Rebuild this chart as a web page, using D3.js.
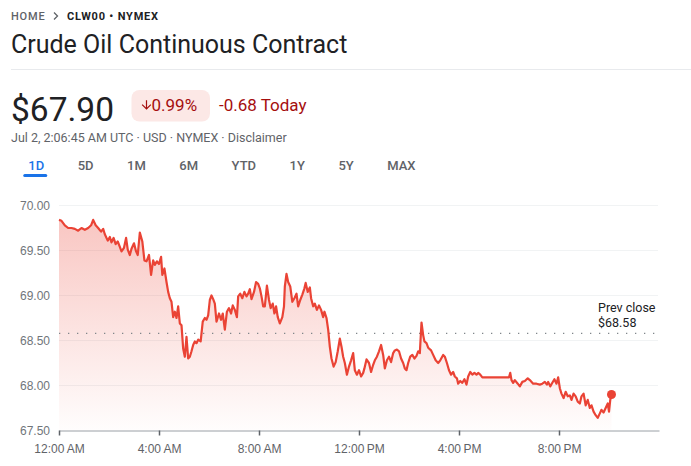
<!DOCTYPE html>
<html lang="en">
<head>
<meta charset="UTF-8">
<title>Crude Oil Continuous Contract</title>
<style>
  body { margin: 0; background: #fff; }
  svg { display: block; font-family: Roboto, "Noto Sans", sans-serif; }
</style>
</head>
<body>
<svg width="691" height="466"></svg>
<script src="https://d3js.org/d3.v7.min.js"></script>
<script>

const crumbs = ["HOME", "CLW00 • NYMEX"];
const title = "Crude Oil Continuous Contract";
const lastPrice = 67.90;
const changePct = -0.99;
const changeAbs = -0.68;
const stamp = "Jul 2, 2:06:45 AM UTC · USD · NYMEX · Disclaimer";
const ranges = ["1D", "5D", "1M", "6M", "YTD", "1Y", "5Y", "MAX"];
const yTicks = [67.5, 68, 68.5, 69, 69.5, 70];
const xTickHours = [0, 4, 8, 12, 16, 20];
const prevClose = 68.58;

// [minutes after midnight, price]
const series = [
  [0,69.84],[6,69.83],[14,69.78],[22,69.75],[30,69.75],[38,69.74],[46,69.72],[54,69.75],
  [62,69.73],[70,69.75],[77,69.78],[82,69.84],[88,69.78],[94,69.75],[101,69.71],[106,69.74],
  [110,69.68],[117,69.61],[122,69.65],[126,69.59],[131,69.64],[136,69.57],[141,69.60],[146,69.54],
  [150,69.49],[156,69.53],[161,69.64],[165,69.51],[170,69.45],[174,69.52],[180,69.58],[185,69.49],
  [189,69.45],[194,69.70],[200,69.60],[205,69.39],[210,69.38],[216,69.45],[221,69.23],[226,69.39],
  [230,69.34],[235,69.38],[240,69.35],[245,69.43],[248,69.23],[253,69.30],[258,69.15],[262,69.04],
  [266,68.97],[270,68.93],[274,68.76],[278,68.82],[282,68.75],[286,68.88],[290,68.69],[294,68.67],
  [298,68.41],[302,68.32],[306,68.54],[310,68.30],[314,68.32],[318,68.38],[322,68.45],[326,68.49],
  [330,68.47],[334,68.51],[340,68.49],[345,68.71],[350,68.75],[354,68.73],[358,68.78],[362,68.95],
  [366,69.00],[370,68.96],[374,68.91],[378,68.71],[384,68.80],[389,68.73],[393,68.80],[398,68.62],
  [403,68.82],[408,68.86],[413,68.80],[417,68.89],[422,68.84],[427,68.76],[430,68.99],[435,69.02],
  [440,68.97],[445,69.04],[450,68.99],[454,69.02],[458,69.07],[462,68.96],[468,69.04],[473,69.15],
  [478,69.13],[482,69.08],[486,68.99],[490,68.88],[494,68.88],[499,69.11],[504,68.95],[508,68.86],
  [513,68.91],[517,68.80],[521,68.88],[525,68.76],[530,68.69],[536,68.76],[540,68.88],[542,69.10],
  [546,69.24],[550,69.15],[555,69.10],[560,68.93],[565,68.97],[570,69.02],[574,68.88],[579,68.95],
  [584,69.01],[589,69.08],[592,69.14],[597,69.04],[602,69.09],[605,68.97],[610,68.88],[614,68.91],
  [619,68.84],[624,68.89],[629,68.84],[634,68.76],[637,68.82],[642,68.75],[646,68.62],[650,68.43],
  [654,68.30],[659,68.21],[664,68.26],[669,68.38],[674,68.52],[678,68.43],[682,68.32],[686,68.25],
  [691,68.12],[696,68.21],[701,68.28],[706,68.36],[710,68.17],[715,68.12],[720,68.17],[725,68.10],
  [730,68.14],[733,68.19],[738,68.29],[744,68.25],[749,68.15],[754,68.23],[758,68.28],[763,68.32],
  [768,68.38],[773,68.45],[778,68.34],[782,68.19],[787,68.28],[792,68.32],[797,68.26],[802,68.36],
  [806,68.39],[811,68.40],[816,68.38],[821,68.30],[826,68.25],[830,68.19],[834,68.17],[838,68.25],
  [843,68.32],[848,68.34],[853,68.30],[858,68.33],[862,68.38],[866,68.36],[870,68.70],[874,68.56],
  [877,68.49],[882,68.47],[886,68.42],[893,68.39],[898,68.34],[904,68.28],[910,68.25],[915,68.28],
  [922,68.34],[926,68.32],[931,68.25],[936,68.17],[941,68.12],[946,68.15],[950,68.10],[955,68.08],
  [958,68.02],[963,68.05],[968,68.03],[973,68.07],[978,68.01],[982,68.10],[987,68.15],[992,68.12],
  [997,68.14],[1002,68.12],[1006,68.14],[1011,68.12],[1016,68.09],[1022,68.09],[1080,68.09],[1083,68.14],
  [1086,68.06],[1090,68.03],[1094,68.06],[1101,68.02],[1106,67.99],[1112,68.04],[1118,68.05],[1125,68.08],
  [1130,68.06],[1138,68.02],[1146,68.02],[1154,68.01],[1160,68.02],[1166,68.04],[1171,68.01],[1174,68.04],
  [1179,67.99],[1184,68.03],[1189,68.07],[1194,68.02],[1198,68.09],[1202,67.97],[1206,67.91],[1211,67.86],
  [1216,67.93],[1221,67.88],[1226,67.89],[1230,67.84],[1235,67.91],[1240,67.88],[1245,67.82],[1250,67.80],
  [1254,67.88],[1259,67.91],[1264,67.78],[1269,67.84],[1274,67.75],[1278,67.78],[1283,67.71],[1288,67.67],
  [1293,67.64],[1298,67.69],[1302,67.73],[1307,67.70],[1312,67.75],[1317,67.80],[1320,67.71],[1323,67.84],
  [1326,67.90]
];

const red = "#ea4335", grey = "#5f6368", dark = "#202124";
const svg = d3.select("svg");

// ---- header ----
svg.append("text").attr("x", 11).attr("y", 20)
    .attr("font-size", 11).attr("font-weight", 500).attr("letter-spacing", 0.8)
    .attr("fill", grey).text(crumbs[0]);
svg.append("path").attr("d", "M54,12.5L57.5,16L54,19.5")
    .attr("fill", "none").attr("stroke", grey).attr("stroke-width", 1.3);
svg.append("text").attr("x", 67).attr("y", 20)
    .attr("font-size", 11).attr("font-weight", 700).attr("letter-spacing", 0.8)
    .attr("fill", dark).text(crumbs[1]);

svg.append("text").attr("x", 11).attr("y", 53)
    .attr("font-size", 25).attr("fill", dark).text(title);
svg.append("line").attr("x1", 11).attr("x2", 691).attr("y1", 69.5).attr("y2", 69.5)
    .attr("stroke", "#e8eaed");

svg.append("text").attr("x", 11).attr("y", 121)
    .attr("font-size", 33.5).attr("fill", dark).text("$" + lastPrice.toFixed(2));

svg.append("rect").attr("x", 131.5).attr("y", 90).attr("width", 78.5).attr("height", 31.5)
    .attr("rx", 8).attr("fill", "#fce8e6");
svg.append("path")
    .attr("d", "M20 12l-1.41-1.41L13 16.17V4h-2v12.17l-5.58-5.59L4 12l8 8 8-8z")
    .attr("transform", "translate(139.3,97.8) scale(0.6)")
    .attr("fill", "#a50e0e");
svg.append("text").attr("x", 151.5).attr("y", 111)
    .attr("font-size", 17).attr("fill", "#a50e0e")
    .text(Math.abs(changePct).toFixed(2) + "%");
svg.append("text").attr("x", 219).attr("y", 111)
    .attr("font-size", 17).attr("fill", "#a50e0e")
    .text(changeAbs.toFixed(2) + " Today");

svg.append("text").attr("x", 11).attr("y", 142)
    .attr("font-size", 12.5).attr("fill", grey).text(stamp);

// ---- range tabs ----
let tabX = 28.3;
ranges.forEach((r, i) => {
  const t = svg.append("text").attr("x", tabX).attr("y", 170)
      .attr("font-size", 13).attr("font-weight", 500)
      .attr("fill", i === 0 ? "#1a73e8" : grey).text(r);
  const w = t.node().getComputedTextLength();
  if (i === 0) {
    const cx = tabX + w / 2 - 1;
    svg.append("rect").attr("x", cx - 12).attr("y", 174).attr("width", 24).attr("height", 3)
        .attr("rx", 1.5).attr("fill", "#1a73e8");
  }
  tabX += w + 33.5;
});

// ---- chart ----
const day = new Date(2025, 6, 1);
const at = m => new Date(day.getTime() + m * 60000);
const x = d3.scaleTime().domain([day, d3.timeDay.offset(day, 1)]).range([59, 659]);
const y = d3.scaleLinear().domain([67.5, 70]).range([430.5, 205.5]);

const defs = svg.append("defs");
const grad = defs.append("linearGradient").attr("id", "fade")
    .attr("gradientUnits", "userSpaceOnUse")
    .attr("x1", 0).attr("x2", 0).attr("y1", y(70)).attr("y2", y(67.5));
grad.append("stop").attr("offset", 0).attr("stop-color", red).attr("stop-opacity", 0.32);
grad.append("stop").attr("offset", 1).attr("stop-color", red).attr("stop-opacity", 0.01);

svg.append("g").selectAll("line")
  .data(yTicks.filter(v => v > 67.5))
  .join("line")
    .attr("x1", 59).attr("x2", 658)
    .attr("y1", d => y(d)).attr("y2", d => y(d))
    .attr("stroke", "#f1f3f4");

const yAxis = svg.append("g").attr("transform", "translate(50,0)")
    .call(d3.axisLeft(y).tickValues(yTicks).tickSize(0).tickPadding(0).tickFormat(d3.format(".2f")));
yAxis.select(".domain").remove();
yAxis.selectAll("text").attr("font-size", 12).attr("fill", "#70757a").attr("font-family", null);

svg.append("path").datum(series)
    .attr("fill", "url(#fade)")
    .attr("d", d3.area().x(d => x(at(d[0]))).y0(y(67.5)).y1(d => y(d[1])));

svg.append("line")
    .attr("x1", 59).attr("x2", 657)
    .attr("y1", y(prevClose)).attr("y2", y(prevClose))
    .attr("stroke", "#80868b").attr("stroke-width", 1.3).attr("stroke-dasharray", "1.3 7.7");

svg.append("path").datum(series)
    .attr("fill", "none").attr("stroke", red).attr("stroke-width", 2.2)
    .attr("stroke-linejoin", "round")
    .attr("d", d3.line().x(d => x(at(d[0]))).y(d => y(d[1])));

const last = series[series.length - 1];
svg.append("circle").attr("cx", x(at(last[0]))).attr("cy", y(last[1])).attr("r", 4.5)
    .attr("fill", red);

svg.append("text").attr("x", 598).attr("y", 311.5)
    .attr("font-size", 12.5).attr("fill", dark).text("Prev close");
svg.append("text").attr("x", 598).attr("y", 326.5)
    .attr("font-size", 12.5).attr("fill", dark).text("$" + prevClose.toFixed(2));

const xAxis = svg.append("g").attr("transform", `translate(0,${y(67.5)})`)
    .call(d3.axisBottom(x)
      .tickValues(xTickHours.map(h => d3.timeHour.offset(day, h)))
      .tickSizeInner(5).tickSizeOuter(0).tickPadding(9)
      .tickFormat(d3.timeFormat("%-I:%M\u202F%p")));
xAxis.select(".domain").attr("stroke", "#9aa0a6");
xAxis.selectAll(".tick line").attr("stroke", grey).attr("stroke-width", 1.5);
xAxis.selectAll("text").attr("font-size", 12).attr("fill", grey).attr("font-family", null);

</script>
</body>
</html>
